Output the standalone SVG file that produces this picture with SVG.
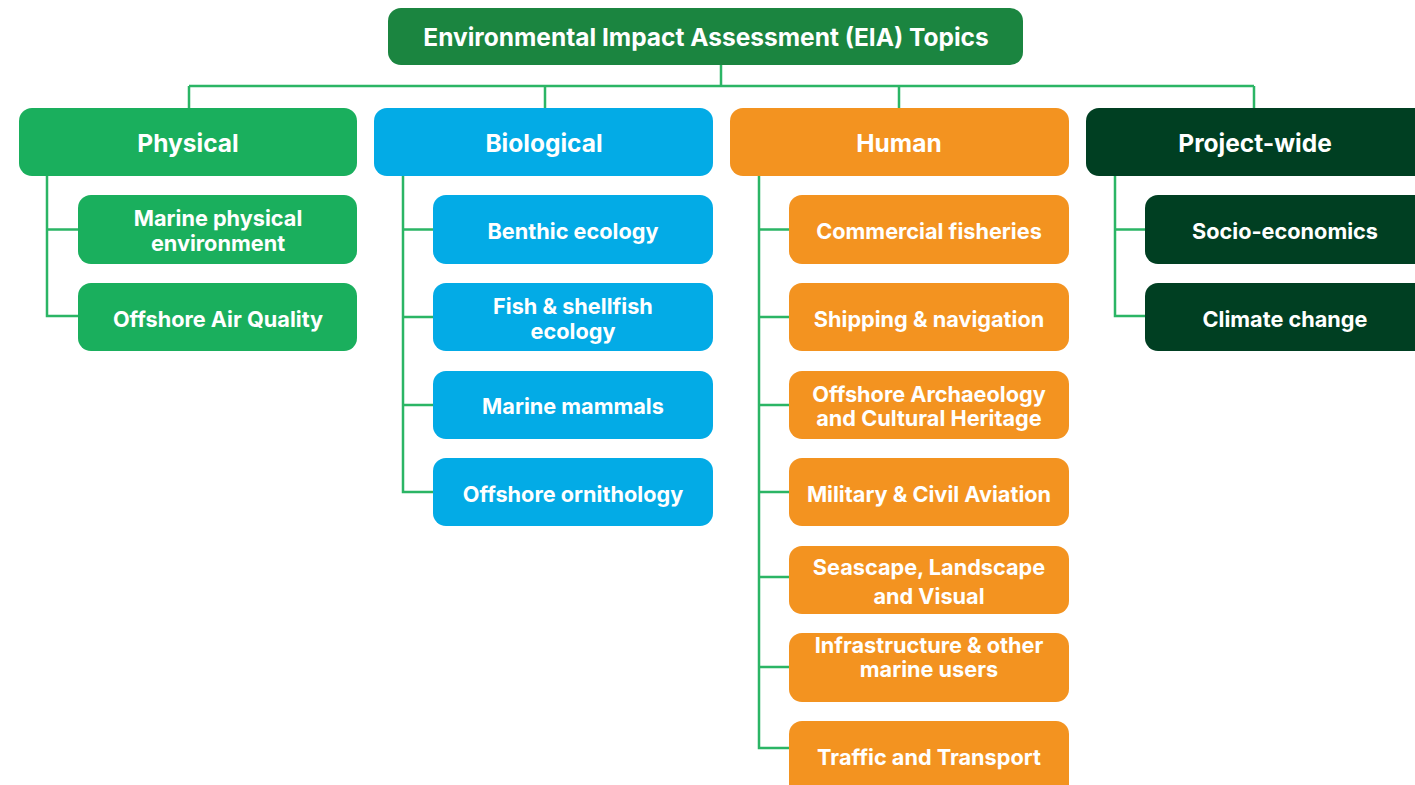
<svg xmlns="http://www.w3.org/2000/svg" width="1415" height="785" viewBox="0 0 1415 785">
<style>
text{font-family:Inter,"Noto Sans","Liberation Sans",sans-serif;font-weight:700;fill:#fff;text-anchor:middle;dominant-baseline:central}
.t{font-size:24.5px}
.c{font-size:24.5px}
.s{font-size:21.7px}
.phy{fill:#1aaf5d}.bio{fill:#03abe6}.hum{fill:#f39320}.prj{fill:#003f22}.top{fill:#1b8540}
.ln{fill:none;stroke:#2bb565;stroke-width:2.5}
</style>
<rect width="1415" height="785" fill="#fff"/>
<g id="connectors" class="ln">
<path d="M721 65V86M189 86H1254M189 86V108M545 86V108M899 86V108M1254 86V108"/>
<path d="M47 176V316H78M47 229.5H78"/>
<path d="M403 176V492H433M403 229.5H433M403 317H433M403 405H433"/>
<path d="M759 176V748H789M759 229.5H789M759 317H789M759 405H789M759 492H789M759 577H789M759 667H789"/>
<path d="M1115 176V316H1145M1115 229.5H1145"/>
</g>
<g id="top"><rect class="top" x="388" y="8" width="635" height="57" rx="13"/><text class="t" x="706" y="37">Environmental Impact Assessment (EIA) Topics</text></g>
<g id="physical"><rect class="phy" x="19" y="108" width="338" height="68" rx="13"/><text class="c" x="188" y="143">Physical</text></g>
<g id="biological"><rect class="bio" x="374" y="108" width="339" height="68" rx="13"/><text class="c" x="544" y="143">Biological</text></g>
<g id="human"><rect class="hum" x="730" y="108" width="339" height="68" rx="13"/><text class="c" x="899" y="143">Human</text></g>
<g id="projectwide"><rect class="prj" x="1086" y="108" width="345" height="68" rx="13"/><text class="c" x="1255" y="143">Project-wide</text></g>

<g id="p1"><rect class="phy" x="78" y="195" width="279" height="69" rx="13"/><text class="s" x="218" y="218">Marine physical</text><text class="s" x="218" y="243">environment</text></g>
<g id="p2"><rect class="phy" x="78" y="283" width="279" height="68" rx="13"/><text class="s" x="218" y="319">Offshore Air Quality</text></g>

<g id="b1"><rect class="bio" x="433" y="195" width="280" height="69" rx="13"/><text class="s" x="573" y="231">Benthic ecology</text></g>
<g id="b2"><rect class="bio" x="433" y="283" width="280" height="68" rx="13"/><text class="s" x="573" y="306">Fish &amp; shellfish</text><text class="s" x="573" y="331">ecology</text></g>
<g id="b3"><rect class="bio" x="433" y="371" width="280" height="68" rx="13"/><text class="s" x="573" y="406">Marine mammals</text></g>
<g id="b4"><rect class="bio" x="433" y="458" width="280" height="68" rx="13"/><text class="s" x="573" y="494">Offshore ornithology</text></g>

<g id="h1"><rect class="hum" x="789" y="195" width="280" height="69" rx="13"/><text class="s" x="929" y="231">Commercial fisheries</text></g>
<g id="h2"><rect class="hum" x="789" y="283" width="280" height="68" rx="13"/><text class="s" x="929" y="319">Shipping &amp; navigation</text></g>
<g id="h3"><rect class="hum" x="789" y="371" width="280" height="68" rx="13"/><text class="s" x="929" y="394">Offshore Archaeology</text><text class="s" x="929" y="418">and Cultural Heritage</text></g>
<g id="h4"><rect class="hum" x="789" y="458" width="280" height="68" rx="13"/><text class="s" x="929" y="494">Military &amp; Civil Aviation</text></g>
<g id="h5"><rect class="hum" x="789" y="546" width="280" height="68" rx="13"/><text class="s" x="929" y="567">Seascape, Landscape</text><text class="s" x="929" y="596">and Visual</text></g>
<g id="h6"><rect class="hum" x="789" y="633" width="280" height="69" rx="13"/><text class="s" x="929" y="645">Infrastructure &amp; other</text><text class="s" x="929" y="669">marine users</text></g>
<g id="h7"><rect class="hum" x="789" y="721" width="280" height="76" rx="13"/><text class="s" x="929" y="757">Traffic and Transport</text></g>

<g id="w1"><rect class="prj" x="1145" y="195" width="286" height="69" rx="13"/><text class="s" x="1285" y="231">Socio-economics</text></g>
<g id="w2"><rect class="prj" x="1145" y="283" width="286" height="68" rx="13"/><text class="s" x="1285" y="319">Climate change</text></g>
</svg>
